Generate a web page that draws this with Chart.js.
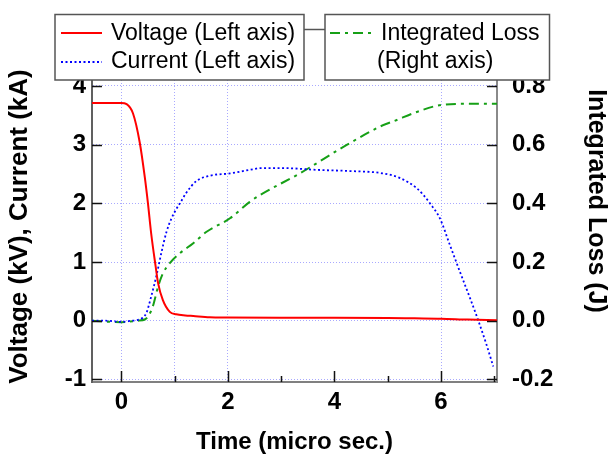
<!DOCTYPE html>
<html>
<head>
<meta charset="utf-8">
<script src="https://cdn.jsdelivr.net/npm/chart.js@4/dist/chart.umd.min.js"></script>
<style>
html,body{margin:0;padding:0;background:#fff;}
canvas{display:block;}
</style>
</head>
<body>
<canvas id="c" width="610" height="454"></canvas>
<script>
// ---- data ----
const timeV   = [-0.55, 0, 0.1, 0.22, 0.345, 0.44, 0.5, 0.56, 0.645, 0.69, 0.78, 0.91, 1.03, 1.2, 1.35, 1.66, 2.0, 3.0, 4.0, 5.0, 5.5, 6.0, 6.5, 7.05];
const voltage = [3.71, 3.71, 3.69, 3.53, 3.04, 2.45, 2.0, 1.49, 0.92, 0.64, 0.35, 0.15, 0.11, 0.09, 0.08, 0.06, 0.055, 0.05, 0.05, 0.045, 0.04, 0.035, 0.02, 0.01];

const timeI   = [-0.55, -0.3, 0, 0.2, 0.3, 0.4, 0.47, 0.56, 0.67, 0.75, 0.85, 0.94, 1.03, 1.1, 1.22, 1.41, 1.66, 2.04, 2.47, 2.6, 3.04, 3.66, 4.29, 4.91, 5.23, 5.54, 5.67, 5.8, 5.98, 6.17, 6.36, 6.55, 6.7, 6.85, 6.98];
const current = [0.0, 0.0, -0.02, 0.0, 0.01, 0.05, 0.13, 0.41, 0.81, 1.15, 1.52, 1.74, 1.9, 2.0, 2.18, 2.38, 2.47, 2.51, 2.58, 2.6, 2.6, 2.57, 2.55, 2.51, 2.43, 2.26, 2.14, 1.99, 1.74, 1.28, 0.82, 0.37, 0.0, -0.40, -0.78];

const timeL   = [-0.55, 0, 0.3, 0.45, 0.52, 0.59, 0.69, 0.78, 0.91, 1.1, 1.35, 1.6, 2.04, 2.41, 2.6, 3.35, 4.23, 4.85, 5.17, 5.48, 6.0, 6.48, 7.05];
const loss    = [0.0, -0.005, 0.0, 0.005, 0.02, 0.048, 0.116, 0.161, 0.196, 0.23, 0.264, 0.303, 0.349, 0.405, 0.428, 0.502, 0.599, 0.661, 0.684, 0.707, 0.735, 0.739, 0.739];

const seriesLabels = ['Voltage (Left axis)', 'Current (Left axis)', 'Integrated Loss'];
const legendSecondLine = '(Right axis)';
const xTickValues = [0, 1, 2, 3, 4, 5, 6, 7];
const leftTickValues = [-1, 0, 1, 2, 3, 4];
const rightTickValues = [-0.2, 0, 0.2, 0.4, 0.6, 0.8];
const xTitle = 'Time (micro sec.)';
const leftTitle = 'Voltage (kV), Current (kA)';
const rightTitle = 'Integrated Loss (J)';

// ---- build ----
const FONT = '"Liberation Sans", Arial, sans-serif';
const toXY = (xs, ys) => xs.map((x, i) => ({x: x, y: ys[i]}));
const gridShownX = [0, 1, 2, 6];
const GRID = 'rgba(140,140,255,0.75)';

const inwardTicks = {
  id: 'inwardTicks',
  afterDatasetsDraw(chart) {
    const ctx = chart.ctx;
    const {x, y, y2} = chart.scales;
    const a = chart.chartArea;
    ctx.save();
    ctx.strokeStyle = '#111';
    ctx.lineWidth = 1.5;
    ctx.beginPath();
    xTickValues.forEach(v => {
      const px = Math.round(x.getPixelForValue(v)) + 0.5;
      const len = (v % 2 === 0) ? 11 : 6;
      ctx.moveTo(px, a.bottom); ctx.lineTo(px, a.bottom - len);
    });
    leftTickValues.forEach(v => {
      const py = Math.round(y.getPixelForValue(v)) + 0.5;
      ctx.moveTo(a.left, py); ctx.lineTo(a.left + 10, py);
    });
    rightTickValues.forEach(v => {
      const py = Math.round(y2.getPixelForValue(v)) + 0.5;
      ctx.moveTo(a.right, py); ctx.lineTo(a.right - 10, py);
    });
    ctx.stroke();
    ctx.restore();
  },
  afterDraw(chart) {
    const ctx = chart.ctx;
    const ds = chart.data.datasets;
    ctx.save();
    // right axis title
    ctx.font = 'bold 25px ' + FONT;
    ctx.fillStyle = '#000';
    ctx.textAlign = 'center';
    ctx.textBaseline = 'middle';
    ctx.translate(596, 201);
    ctx.rotate(Math.PI / 2);
    ctx.fillText(rightTitle, 0, 0);
    ctx.restore();

    // legend boxes
    ctx.save();
    ctx.strokeStyle = '#555';
    ctx.lineWidth = 1.5;
    ctx.fillStyle = '#fff';
    ctx.beginPath(); ctx.moveTo(304, 29.5); ctx.lineTo(325, 29.5); ctx.stroke();
    ctx.fillRect(55, 14.5, 249, 65.5); ctx.strokeRect(55, 14.5, 249, 65.5);
    ctx.fillRect(325, 14.5, 224.5, 65.5); ctx.strokeRect(325, 14.5, 224.5, 65.5);

    const sample = (d, x0, x1, yy) => {
      ctx.save();
      ctx.strokeStyle = d.borderColor;
      ctx.lineWidth = d.borderWidth;
      ctx.setLineDash(d.borderDash || []);
      ctx.beginPath(); ctx.moveTo(x0, yy); ctx.lineTo(x1, yy); ctx.stroke();
      ctx.restore();
    };
    sample(ds[0], 61, 102, 33);
    sample(ds[1], 61, 102, 62);
    sample(ds[2], 330, 372, 33);

    ctx.fillStyle = '#000';
    ctx.font = '23px ' + FONT;
    ctx.textAlign = 'left';
    ctx.textBaseline = 'middle';
    ctx.fillText(ds[0].label, 111, 34);
    ctx.fillText(ds[1].label, 111, 62);
    ctx.fillText(ds[2].label, 381, 34);
    ctx.fillText(legendSecondLine, 377, 62);
    ctx.restore();
  }
};

new Chart(document.getElementById('c'), {
  type: 'line',
  data: {
    datasets: [
      {label: seriesLabels[0], data: toXY(timeV, voltage), yAxisID: 'y', borderColor: '#ff0000', borderWidth: 2, pointRadius: 0, cubicInterpolationMode: 'monotone'},
      {label: seriesLabels[1], data: toXY(timeI, current), yAxisID: 'y', borderColor: '#0000ff', borderWidth: 1.8, borderDash: [2, 2.5], pointRadius: 0, cubicInterpolationMode: 'monotone'},
      {label: seriesLabels[2], data: toXY(timeL, loss), yAxisID: 'y2', borderColor: '#16a016', borderWidth: 2, borderDash: [10, 5, 3, 5], pointRadius: 0, cubicInterpolationMode: 'monotone'}
    ]
  },
  options: {
    responsive: false,
    animation: false,
    devicePixelRatio: 1,
    layout: {padding: {top: 71, left: 0, right: 0, bottom: 0}},
    plugins: {legend: {display: false}, tooltip: {enabled: false}},
    scales: {
      x: {
        type: 'linear', min: -0.55, max: 7.05,
        afterFit: s => { s.height = 72; },
        ticks: {stepSize: 1, includeBounds: false, padding: 6, color: '#000', font: {family: FONT, size: 24, weight: 'bold'},
          callback: v => (v % 2 === 0 ? String(v) : '')},
        grid: {drawTicks: false, color: c => (gridShownX.includes(c.tick && c.tick.value) ? GRID : 'rgba(0,0,0,0)'), lineWidth: 1},
        border: {display: true, color: '#808080', width: 2, dash: [1, 2]},
        title: {display: true, text: xTitle, color: '#000', font: {family: FONT, size: 24, weight: 'bold', lineHeight: 1}, padding: {top: 0, bottom: 0}}
      },
      y: {
        type: 'linear', position: 'left', min: -1.044, max: 4.254,
        afterFit: s => { s.width = 92; },
        ticks: {stepSize: 1, includeBounds: false, padding: 6, color: '#000', font: {family: FONT, size: 24, weight: 'bold'}},
        grid: {drawTicks: false, color: GRID, lineWidth: 1},
        border: {display: true, color: '#606060', width: 2, dash: [1, 2]},
        title: {display: true, text: leftTitle, color: '#000', font: {family: FONT, size: 26, weight: 'bold', lineHeight: 1}, padding: {top: 7, bottom: 0}}
      },
      y2: {
        type: 'linear', position: 'right', min: -0.2088, max: 0.8508,
        afterFit: s => { s.width = 113; },
        ticks: {stepSize: 0.2, includeBounds: false, padding: 15, color: '#000', font: {family: FONT, size: 24, weight: 'bold'},
          callback: v => Number(v).toFixed(1)},
        grid: {display: false, drawTicks: false},
        border: {display: true, color: '#8a8a8a', width: 2}
      }
    }
  },
  plugins: [inwardTicks]
});
</script>
</body>
</html>
